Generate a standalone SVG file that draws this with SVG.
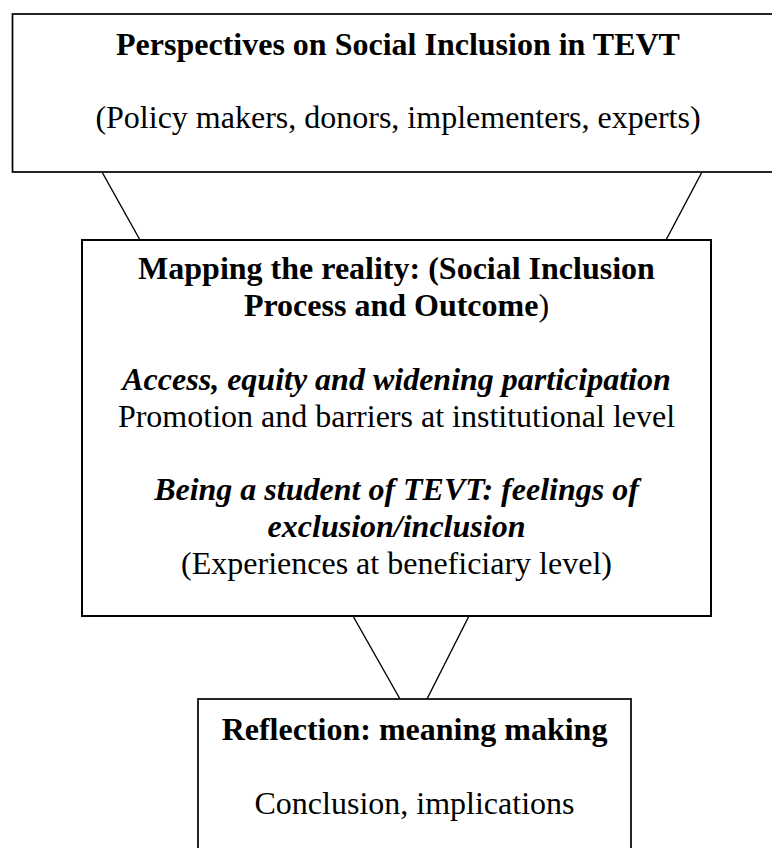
<svg xmlns="http://www.w3.org/2000/svg" width="772" height="848" viewBox="0 0 772 848">
  <style>
    .box { fill: #fff; stroke: #000; stroke-width: 1.7; }
    .mid { stroke-width: 2; }
    .link { stroke: #000; stroke-width: 1.4; fill: none; }
    text { font-family: "Liberation Serif", "Times New Roman", serif; font-size: 32px; fill: #000; text-anchor: middle; }
    .b { font-weight: bold; }
    .bi { font-weight: bold; font-style: italic; }
  </style>
  <rect width="772" height="848" fill="#fff"/>

  <!-- connectors between the stages -->
  <g id="connectors">
    <line class="link" x1="102" y1="172" x2="140" y2="240"/>
    <line class="link" x1="702" y1="172" x2="666" y2="240"/>
    <line class="link" x1="353" y1="616" x2="400" y2="699"/>
    <line class="link" x1="469" y1="616" x2="427" y2="699"/>
  </g>

  <g id="perspectives">
    <rect class="box" x="12.5" y="14" width="771" height="158"/>
    <text class="b" x="398" y="55">Perspectives on Social Inclusion in TEVT</text>
    <text x="398" y="128">(Policy makers, donors, implementers, experts)</text>
  </g>

  <g id="mapping">
    <rect class="box mid" x="82" y="240" width="629" height="376"/>
    <text class="b" x="396.5" y="279">Mapping the reality: (Social Inclusion</text>
    <text x="396.5" y="316"><tspan class="b">Process and Outcome</tspan>)</text>
    <text class="bi" x="396.5" y="390">Access, equity and widening participation</text>
    <text x="396.5" y="426.5">Promotion and barriers at institutional level</text>
    <text class="bi" x="396.5" y="500">Being a student of TEVT: feelings of</text>
    <text class="bi" x="396.5" y="537">exclusion/inclusion</text>
    <text x="396.5" y="573.5">(Experiences at beneficiary level)</text>
  </g>

  <g id="reflection">
    <rect class="box" x="198" y="699" width="433" height="170"/>
    <text class="b" x="414.5" y="740">Reflection: meaning making</text>
    <text x="414.5" y="814">Conclusion, implications</text>
  </g>
</svg>
